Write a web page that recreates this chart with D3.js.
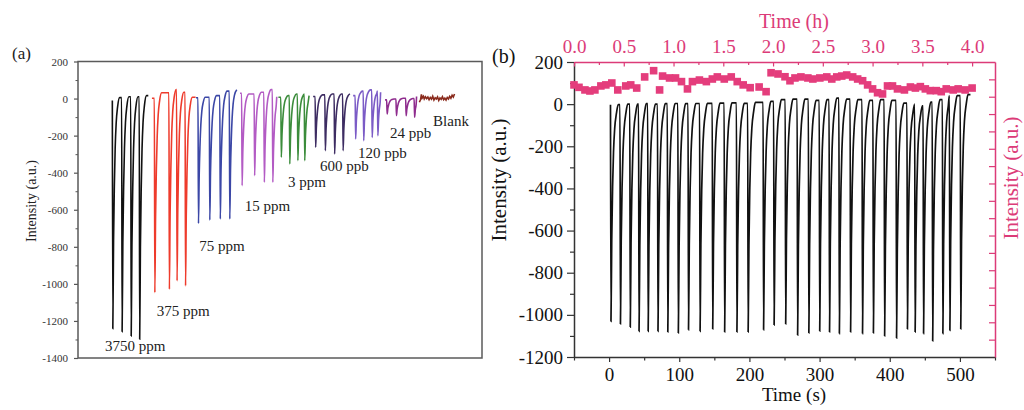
<!DOCTYPE html>
<html>
<head>
<meta charset="utf-8">
<script src="https://cdn.jsdelivr.net/npm/d3@7"></script>
<style>
body { margin: 0; background: #fff; }
svg { display: block; font-family: "Liberation Serif", "Times New Roman", serif; }
svg text { font-family: "Liberation Serif", "Times New Roman", serif; }
</style>
</head>
<body>
<svg id="chart" width="1024" height="410"></svg>
<script>
// ---- panel (a): response to different concentrations ----
var aLabels = ["3750 ppm", "375 ppm", "75 ppm", "15 ppm", "3 ppm", "600 ppb", "120 ppb", "24 ppb"];
var aColors = ["#111111", "#ee3b2c", "#3b47a6", "#b35bc4", "#3b8c3b", "#3d2c62", "#7b5bc6", "#8f2c8e"];
var aStart = [[85, -11], [183, 2], [292, 4], [401, 29], [496, 7], [582, 11], [681, 16], [760, -7]];
var aEnd = [[174, 16], [291, 7], [393, 48], [492, 10], [572, 16], [673, 25], [749, 34], [838, 11]];
var aDrops = [
    [85, 108, 130.5, 151.5],
    [189, 225, 244, 265],
    [297, 325, 351, 374.5],
    [405, 436, 460, 481],
    [502, 523, 543, 560],
    [587, 611, 634, 655],
    [686, 706, 727, 741],
    [764, 787, 811, 832]
];
var aPeaks = [
    [-11, 5, 10, 10],
    [2, 31, 49, 34],
    [4, 7, 16, 40],
    [29, 25, 34, 48],
    [7, 16, 25, 25],
    [11, 20, 25, 25],
    [16, 40, 47, 40],
    [-7, -2, 2, 0]
];
var aTroughs = [
    [-1242, -1258, -1281, -1299],
    [-1047, -1029, -984, -1011],
    [-674, -656, -650, -650],
    [-470, -416, -452, -452],
    [-317, -353, -335, -335],
    [-263, -281, -299, -281],
    [-218, -227, -210, -200],
    [-83, -92, -92, -101]
];
var aLabelAt = [[67, -1362], [195, -1173], [300, -825], [413, -609], [520, -479], [599, -393], [693, -321], [772, -212]];
var blankT = [845, 848, 850, 852, 855, 857, 860, 863, 866, 869, 872, 875, 878, 881, 884, 887, 890, 893, 896, 899, 902, 905, 908, 911, 914, 917, 920, 923, 926, 929, 932];
var blankV = [-20, -5, 22, 3, 12, -2, 10, 0, 8, -6, 6, -3, 12, -8, 4, -2, 9, -10, 3, -4, 10, -6, 2, -8, 6, -2, 12, 2, 18, 8, 25];
var aRecovery = [[1.2, 1], [3, 0.62], [5, 0.38], [7, 0.22], [9.5, 0.11], [13, 0.04], [18, 0]];
var aYTicks = [-1400, -1200, -1000, -800, -600, -400, -200, 0, 200];

// ---- panel (b): repeated cycles over 4 h ----
var bDrops = [2, 15.5, 29.5, 42, 55, 69, 83, 98, 112.5, 129, 147, 164, 181.5, 197.5, 219.5, 234.5, 251, 268, 284, 299.5,
    313.5, 327.5, 343.5, 360.5, 376, 392, 409, 424.5, 435.5, 447.5, 460.5, 475, 485, 500.5];
var bTroughs = [-1031, -1043, -1058, -1078, -1078, -1078, -1081, -1086, -1071, -1078, -1067, -1081, -1081, -1081, -1071, -1048, -1043, -1096, -1086, -1077,
    -1081, -1089, -1081, -1089, -1086, -1100, -1110, -1067, -1081, -1089, -1124, -1089, -1074, -1067];
var bPeaks = [-3, -2, 0, 0, 2, 0, 2, 3, 2, 3, 4, 5, 6, 4, 8, 13, 21, 24, 24, 18,
    21, 29, 24, 21, 18, 21, 18, 5, 0, -8, 10, 21, 40, 40];
var bStart = [2, -3];
var bEnd = [515, 45];
var bRecovery = [[0.7, 1], [1.8, 0.62], [3, 0.38], [4.3, 0.22], [6, 0.11], [8.5, 0.04], [11, 0]];
var pinkH = [0.00, 0.05, 0.11, 0.16, 0.21, 0.27, 0.32, 0.38, 0.44, 0.52, 0.57, 0.63, 0.71, 0.80, 0.86, 0.89, 0.96, 1.02, 1.08, 1.14,
    1.19, 1.26, 1.33, 1.39, 1.44, 1.51, 1.58, 1.64, 1.70, 1.77, 1.86, 1.93, 1.98, 2.05, 2.12, 2.17, 2.22, 2.28, 2.35, 2.40,
    2.47, 2.54, 2.59, 2.64, 2.69, 2.74, 2.80, 2.85, 2.90, 2.95, 3.00, 3.05, 3.10, 3.15, 3.20, 3.25, 3.32, 3.38, 3.43, 3.48,
    3.53, 3.58, 3.64, 3.69, 3.74, 3.81, 3.86, 3.93, 4.00];
var pinkV = [156.8, 155.4, 153.9, 153.3, 153.9, 156.2, 156.8, 157.9, 153.9, 156.2, 156.8, 155.0, 161.4, 165.0, 153.9, 161.9, 160.8, 160.8, 158.7, 154.5,
    158.7, 159.6, 158.7, 160.2, 161.4, 160.2, 161.4, 158.7, 156.8, 155.2, 155.6, 152.9, 163.8, 163.1, 161.5, 159.2, 160.8, 161.4, 160.8, 160.2,
    160.8, 161.4, 160.2, 161.4, 161.9, 162.5, 161.4, 160.2, 159.2, 156.8, 154.5, 152.3, 151.6, 156.2, 156.2, 154.5, 153.9, 155.6, 155.0, 155.8,
    154.5, 153.5, 153.5, 152.9, 154.5, 153.9, 154.5, 153.9, 155.0];
var bYTicks = [-1200, -1000, -800, -600, -400, -200, 0, 200];
var bXTicks = [0, 100, 200, 300, 400, 500];
var hTicks = [0, 0.5, 1, 1.5, 2, 2.5, 3, 3.5, 4];

var pink = "#dc3b78";
var svg = d3.select("#chart");

// builds a trace: each pulse drops to its trough then recovers towards the next baseline
function buildTrace(start, drops, peaks, troughs, end, recovery) {
    var pts = [start.slice()];
    drops.forEach(function(d, i) {
        var last = i === drops.length - 1;
        var target = last ? end[1] : peaks[i + 1];
        var next = last ? end[0] : drops[i + 1];
        pts.push([d, peaks[i]]);
        recovery.forEach(function(r) {
            if (d + r[0] < next - 0.5)
                pts.push([d + r[0], target + (troughs[i] - target) * r[1]]);
        });
    });
    pts.push(end.slice());
    return pts.filter(function(p, i, arr) { return i === 0 || p[0] > arr[i - 1][0]; });
}

function fmt(d) { return String(d); }

// axis groups get font-family from d3; drop it so the serif stack applies
function styleAxis(g, color, size) {
    g.attr("font-family", null);
    g.select(".domain").attr("stroke", color).attr("stroke-width", 1.5);
    g.selectAll("line").attr("stroke", color).attr("stroke-width", 1.2);
    g.selectAll("text").attr("fill", color).style("font-size", size);
}

// ================= panel (a) =================
var xA = d3.scaleLinear().domain([0, 1000]).range([78, 482]);
var yA = d3.scaleLinear().domain([-1400, 200]).range([358, 61.5]);

var lineA = d3.line()
    .x(function(d) { return xA(d[0]); })
    .y(function(d) { return yA(d[1]); })
    .curve(d3.curveMonotoneX);

var gA = svg.append("g");

gA.append("g")
    .attr("transform", "translate(78,0)")
    .call(d3.axisLeft(yA).tickValues(d3.range(-1300, 200, 200)).tickSize(2.5).tickFormat(""))
    .call(function(g) { g.select(".domain").remove(); g.selectAll("line").attr("stroke", "#555"); });

gA.append("g")
    .attr("transform", "translate(78,0)")
    .call(d3.axisLeft(yA).tickValues(aYTicks).tickSize(4).tickPadding(6).tickFormat(fmt))
    .call(function(g) {
        styleAxis(g, "#555", "11px");
        g.select(".domain").remove();
        g.selectAll("text").attr("fill", "#333");
    });

gA.append("rect")
    .attr("x", 78).attr("y", 61.5)
    .attr("width", 404).attr("height", 296.5)
    .attr("fill", "none")
    .attr("stroke", "#5a5a5a")
    .attr("stroke-width", 1.5);

aLabels.forEach(function(lab, k) {
    var pts = buildTrace(aStart[k], aDrops[k], aPeaks[k], aTroughs[k], aEnd[k], aRecovery);
    gA.append("path")
        .datum(pts)
        .attr("d", lineA)
        .attr("fill", "none")
        .attr("stroke", aColors[k])
        .attr("stroke-width", 1.6);
    gA.append("text")
        .attr("x", xA(aLabelAt[k][0]))
        .attr("y", yA(aLabelAt[k][1]))
        .attr("fill", "#222")
        .style("font-size", "15px")
        .text(lab);
});

gA.append("path")
    .datum(d3.zip(blankT, blankV))
    .attr("d", d3.line().x(function(d) { return xA(d[0]); }).y(function(d) { return yA(d[1]); }))
    .attr("fill", "none")
    .attr("stroke", "#8a2b1d")
    .attr("stroke-width", 1.6);

gA.append("text")
    .attr("x", xA(879)).attr("y", yA(-146))
    .attr("fill", "#222")
    .style("font-size", "15px")
    .text("Blank");

gA.append("text")
    .attr("x", 12).attr("y", 59)
    .attr("fill", "#222")
    .style("font-size", "17px")
    .text("(a)");

gA.append("text")
    .attr("transform", "translate(36,201) rotate(-90)")
    .attr("text-anchor", "middle")
    .attr("fill", "#222")
    .style("font-size", "14px")
    .text("Intensity (a.u.)");

// ================= panel (b) =================
var xB = d3.scaleLinear().domain([-50, 550]).range([574, 995]);
var xH = d3.scaleLinear().domain([0, 4.23]).range([574, 995]);
var yB = d3.scaleLinear().domain([-1200, 200]).range([357, 62]);
var yR = d3.scaleLinear().domain([0, 170]).range([357, 62]);

var gB = svg.append("g");

// left axis
gB.append("g")
    .attr("transform", "translate(574,0)")
    .call(d3.axisLeft(yB).tickValues(d3.range(-1100, 200, 200)).tickSize(4).tickFormat(""))
    .call(function(g) { g.select(".domain").remove(); g.selectAll("line").attr("stroke", "#333").attr("stroke-width", 1.2); });
gB.append("g")
    .attr("transform", "translate(574,0)")
    .call(d3.axisLeft(yB).tickValues(bYTicks).tickSize(7).tickSizeOuter(0).tickPadding(4).tickFormat(fmt))
    .call(function(g) { styleAxis(g, "#333", "19px"); g.selectAll("text").attr("fill", "#111"); });

// bottom axis
gB.append("g")
    .attr("transform", "translate(0,357)")
    .call(d3.axisBottom(xB).tickValues(d3.range(-50, 551, 100)).tickSize(3.5).tickFormat(""))
    .call(function(g) { g.select(".domain").remove(); g.selectAll("line").attr("stroke", "#333").attr("stroke-width", 1.2); });
gB.append("g")
    .attr("transform", "translate(0,357)")
    .call(d3.axisBottom(xB).tickValues(bXTicks).tickSize(5).tickSizeOuter(0).tickPadding(6).tickFormat(fmt))
    .call(function(g) { styleAxis(g, "#333", "19px"); g.selectAll("text").attr("fill", "#111"); });

// top axis (hours)
gB.append("g")
    .attr("transform", "translate(0,62)")
    .call(d3.axisTop(xH).tickValues(d3.range(0.25, 4.1, 0.5)).tickSizeInner(-3).tickSizeOuter(0).tickFormat(""))
    .call(function(g) { g.select(".domain").remove(); g.selectAll("line").attr("stroke", pink).attr("stroke-width", 1.2); });
gB.append("g")
    .attr("transform", "translate(0,62)")
    .call(d3.axisTop(xH).tickValues(hTicks).tickSizeInner(-4.5).tickSizeOuter(0).tickPadding(9).tickFormat(d3.format(".1f")))
    .call(function(g) { styleAxis(g, pink, "19px"); });

// right axis
gB.append("g")
    .attr("transform", "translate(995,0)")
    .call(d3.axisRight(yR).tickValues(d3.range(10, 170, 10)).tickSizeInner(-6).tickSizeOuter(0).tickFormat(""))
    .call(function(g) { styleAxis(g, pink, "19px"); });

// pink baseline markers
gB.selectAll(".sq")
    .data(d3.zip(pinkH, pinkV))
    .enter().append("rect")
    .attr("class", "sq")
    .attr("x", function(d) { return xH(d[0]) - 3.8; })
    .attr("y", function(d) { return yR(d[1]) - 3.8; })
    .attr("width", 7.6)
    .attr("height", 7.6)
    .attr("fill", "#e43d7c");

// black cycling trace
var lineB = d3.line()
    .x(function(d) { return xB(d[0]); })
    .y(function(d) { return yB(d[1]); })
    .curve(d3.curveMonotoneX);

gB.append("path")
    .datum(buildTrace(bStart, bDrops, bPeaks, bTroughs, bEnd, bRecovery))
    .attr("d", lineB)
    .attr("fill", "none")
    .attr("stroke", "#111")
    .attr("stroke-width", 1.7);

gB.append("text")
    .attr("x", 492).attr("y", 63)
    .attr("fill", "#111")
    .style("font-size", "20px")
    .text("(b)");

gB.append("text")
    .attr("x", 794).attr("y", 401)
    .attr("text-anchor", "middle")
    .attr("fill", "#111")
    .style("font-size", "19px")
    .text("Time (s)");

gB.append("text")
    .attr("x", 794).attr("y", 28)
    .attr("text-anchor", "middle")
    .attr("fill", pink)
    .style("font-size", "20px")
    .text("Time (h)");

gB.append("text")
    .attr("transform", "translate(506,180) rotate(-90)")
    .attr("text-anchor", "middle")
    .attr("fill", "#111")
    .style("font-size", "21px")
    .text("Intensity (a.u.)");

gB.append("text")
    .attr("transform", "translate(1018,178) rotate(-90)")
    .attr("text-anchor", "middle")
    .attr("fill", pink)
    .style("font-size", "21px")
    .text("Intensity (a.u.)");
</script>
</body>
</html>
